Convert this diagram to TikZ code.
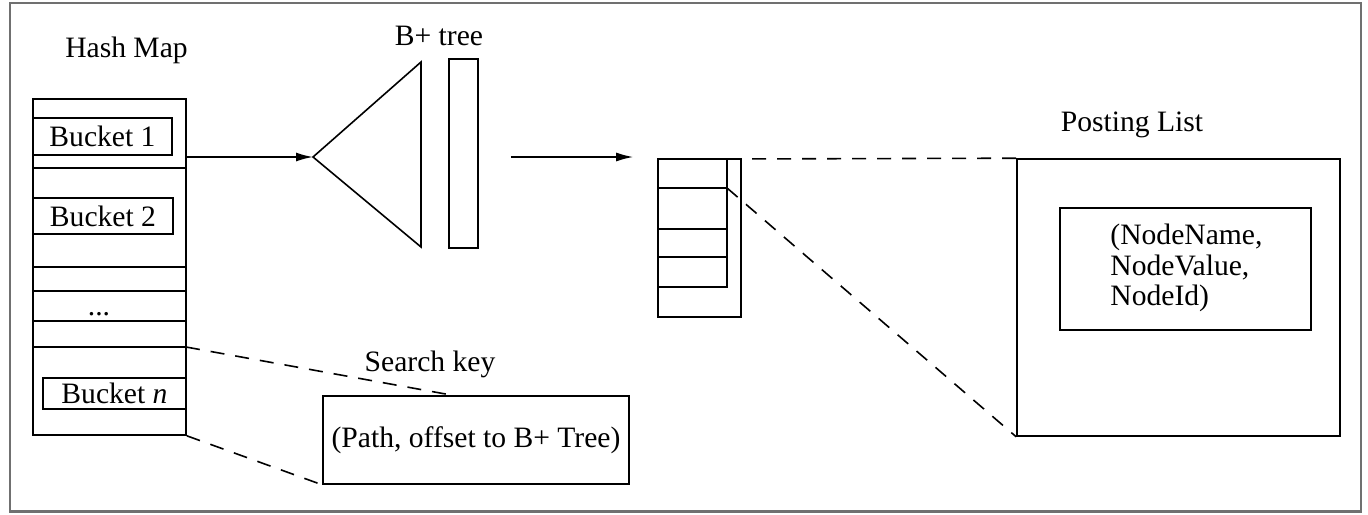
\documentclass[tikz,border=0pt]{standalone}
\usepackage{fontspec}
\setmainfont{Liberation Serif}
\usepackage{tikz}
\usetikzlibrary{
    arrows.meta,
    positioning,
    calc
}
\definecolor{framegray}{HTML}{707070}

\begin{document}
\begin{tikzpicture}[
    x=0.5pt, y=-0.5pt,
    font=\fontsize{14.8pt}{15.3pt}\selectfont,
    box/.style={draw, line width=0.8pt, inner sep=0pt},
    lbl/.style={anchor=base, inner sep=0pt},
    arr/.style={-{Latex[length=8.5pt, width=4.5pt]}, line width=0.8pt},
    link/.style={line width=0.8pt, dash pattern=on 7pt off 5.5pt},
    rim/.style={draw=framegray, line width=1.1pt},
]
    \useasboundingbox (0,0) rectangle (1368,514);
    \draw[rim] (10,3) rectangle (1361,511.5);

    % Hash map
    \node[lbl] (hmlabel) at (126.5,57) {Hash Map};
    \node[box, minimum width=76.5pt, minimum height=168pt] (hmap) at (109.5,267) {};
    \foreach \y in {168,267,291,321,347}
        \draw[line width=0.8pt] (33,\y) -- (186,\y);
    \node[box, minimum width=69.5pt, minimum height=18.5pt] (b1) at (102.5,136.5) {Bucket 1};
    \node[box, minimum width=70pt, minimum height=18pt] (b2) at (103,216) {Bucket 2};
    \node[lbl] (dots) at (99,315) {...};
    \node[box, minimum width=71.5pt, minimum height=15.5pt] (bn) at (114.5,393.5) {Bucket \textit{n}};
    \coordinate (rown) at (186,347);

    % B+ tree
    \node[lbl] (btlabel) at (439,45) {B+ tree};
    \coordinate (apex) at (313,157);
    \draw[line width=0.8pt] (apex) -- (421,62) -- (421,247) -- cycle;
    \node[box, minimum width=14.5pt, minimum height=94.5pt] (leaf) at (463.5,153.5) {};
    \draw[arr] (hmap.east |- apex) -- (apex);

    % Posting list pointer block
    \node[box, minimum width=41.5pt, minimum height=79pt] (plist) at (699.5,238) {};
    \draw[line width=0.8pt] (727,159) -- (727,287) -- (658,287);
    \foreach \y in {188,229,257}
        \draw[line width=0.8pt] (658,\y) -- (727,\y);
    \coordinate (ptop) at (727,159);
    \coordinate (pfirst) at (727,188);
    \draw[arr, shorten <=16pt, shorten >=12pt] (leaf.east |- apex) -- (plist.west |- apex);

    % Posting list
    \node[lbl] (pllabel) at (1132,131.7) {Posting List};
    \node[box, minimum width=161.5pt, minimum height=138.5pt] (pbox) at (1178.5,297.5) {};
    \node[box, minimum width=125.5pt, minimum height=61pt] (ptuple) at (1185.5,269) {};
    \node[anchor=west, align=left, inner sep=0pt] (ptext) at (1110,268)
        {(NodeName,\\NodeValue,\\NodeId)};
    \draw[link] (ptop) -- (pbox.north west);
    \draw[link] (pfirst) -- (pbox.south west);

    % Search key
    \node[lbl] (sklabel) at (430,371.7) {Search key};
    \node[box, minimum width=153pt, minimum height=44pt] (skey) at (476,440)
        {(Path, offset to B+ Tree)};
    \draw[link] (rown) -- ([xshift=65pt]skey.north west);
    \draw[link] (hmap.south east) -- (skey.south west);

\end{tikzpicture}
\end{document}
